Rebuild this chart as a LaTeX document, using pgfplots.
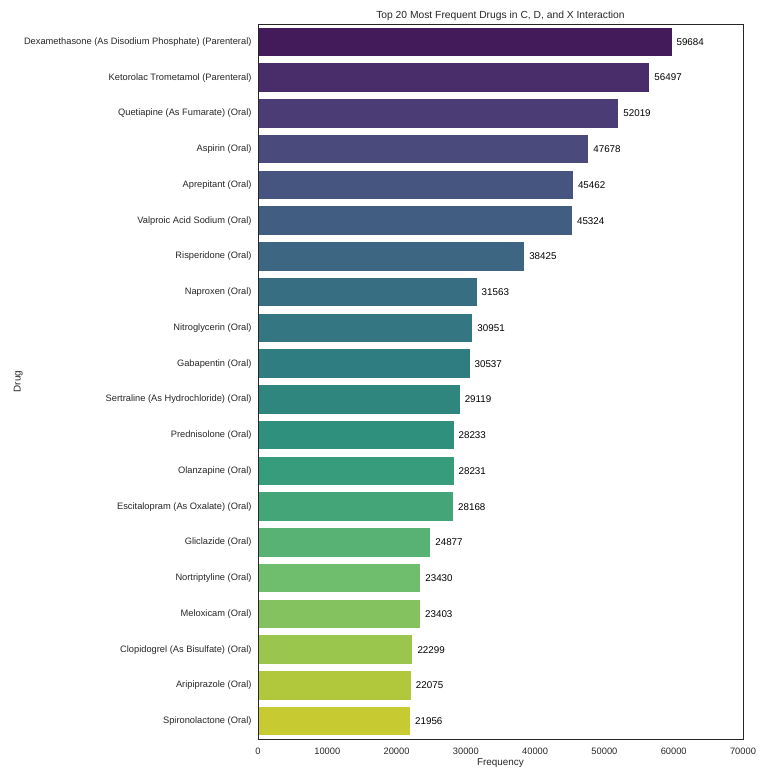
\documentclass[border=0pt]{standalone}
\usepackage{pgfplots}
\pgfplotsset{compat=1.18}
\usepackage{fontspec}
\setmainfont{Liberation Sans}

\definecolor{ink}{RGB}{38,38,38}
\definecolor{c1}{RGB}{68,27,90}
\definecolor{c2}{RGB}{73,45,106}
\definecolor{c3}{RGB}{75,60,117}
\definecolor{c4}{RGB}{74,74,125}
\definecolor{c5}{RGB}{70,84,128}
\definecolor{c6}{RGB}{66,93,130}
\definecolor{c7}{RGB}{61,102,130}
\definecolor{c8}{RGB}{56,110,130}
\definecolor{c9}{RGB}{52,118,129}
\definecolor{c10}{RGB}{48,125,129}
\definecolor{c11}{RGB}{46,134,127}
\definecolor{c12}{RGB}{47,144,126}
\definecolor{c13}{RGB}{55,156,123}
\definecolor{c14}{RGB}{68,166,120}
\definecolor{c15}{RGB}{87,178,116}
\definecolor{c16}{RGB}{111,190,109}
\definecolor{c17}{RGB}{131,194,95}
\definecolor{c18}{RGB}{154,198,77}
\definecolor{c19}{RGB}{177,200,60}
\definecolor{c20}{RGB}{200,202,49}

\begin{document}
\begin{tikzpicture}
\begin{axis}[
  scale only axis,
  width=485pt, height=715pt,
  xmin=0, xmax=70000,
  ymin=-0.5, ymax=19.5,
  y dir=reverse,
  axis on top,
  axis line style={ink, line width=0.8pt},
  xtick={0,10000,...,70000},
  ytick={0,...,19},
  yticklabels={
    Dexamethasone (As Disodium Phosphate) (Parenteral),
    Ketorolac Trometamol (Parenteral),
    Quetiapine (As Fumarate) (Oral),
    Aspirin (Oral),
    Aprepitant (Oral),
    Valproic Acid Sodium (Oral),
    Risperidone (Oral),
    Naproxen (Oral),
    Nitroglycerin (Oral),
    Gabapentin (Oral),
    Sertraline (As Hydrochloride) (Oral),
    Prednisolone (Oral),
    Olanzapine (Oral),
    Escitalopram (As Oxalate) (Oral),
    Gliclazide (Oral),
    Nortriptyline (Oral),
    Meloxicam (Oral),
    Clopidogrel (As Bisulfate) (Oral),
    Aripiprazole (Oral),
    Spironolactone (Oral)},
  major tick length=0pt,
  scaled x ticks=false,
  /pgf/number format/assume math mode=true,
  xticklabel={\pgfmathprintnumber[fixed,1000 sep={}]{\tick}},
  tick label style={font=\fontsize{9.3}{11}\selectfont, text=ink},
  xticklabel style={yshift=-5pt},
  yticklabel style={xshift=-3pt},
  xlabel={Frequency},
  ylabel={Drug},
  label style={font=\fontsize{9.9}{12}\selectfont, text=ink},
  xlabel style={at={(axis description cs:0.5,-0.0340)}, anchor=center},
  ylabel style={at={(axis description cs:-0.4945,0.5)}, anchor=center},
  title={Top 20 Most Frequent Drugs in C, D, and X Interaction},
  every axis title shift=0pt,
  title style={font=\fontsize{10.3}{12}\selectfont, text=ink,
    at={(axis description cs:0.5,1)}, anchor=base, yshift=6pt},
  xbar, bar width=0.8, bar shift=0pt,
  nodes near coords,
  point meta=x,
  nodes near coords style={font=\fontsize{9.8}{12}\selectfont, text=black, anchor=west, xshift=1.5pt,
    /pgf/number format/.cd, fixed, 1000 sep={}, precision=0},
]
\addplot[fill=c1, draw=none] coordinates {(59684,0)};
\addplot[fill=c2, draw=none] coordinates {(56497,1)};
\addplot[fill=c3, draw=none] coordinates {(52019,2)};
\addplot[fill=c4, draw=none] coordinates {(47678,3)};
\addplot[fill=c5, draw=none] coordinates {(45462,4)};
\addplot[fill=c6, draw=none] coordinates {(45324,5)};
\addplot[fill=c7, draw=none] coordinates {(38425,6)};
\addplot[fill=c8, draw=none] coordinates {(31563,7)};
\addplot[fill=c9, draw=none] coordinates {(30951,8)};
\addplot[fill=c10, draw=none] coordinates {(30537,9)};
\addplot[fill=c11, draw=none] coordinates {(29119,10)};
\addplot[fill=c12, draw=none] coordinates {(28233,11)};
\addplot[fill=c13, draw=none] coordinates {(28231,12)};
\addplot[fill=c14, draw=none] coordinates {(28168,13)};
\addplot[fill=c15, draw=none] coordinates {(24877,14)};
\addplot[fill=c16, draw=none] coordinates {(23430,15)};
\addplot[fill=c17, draw=none] coordinates {(23403,16)};
\addplot[fill=c18, draw=none] coordinates {(22299,17)};
\addplot[fill=c19, draw=none] coordinates {(22075,18)};
\addplot[fill=c20, draw=none] coordinates {(21956,19)};
\end{axis}
\path[use as bounding box] ([shift={(-258pt,-37pt)}]current axis.south west)
  rectangle ([shift={(512pt,739pt)}]current axis.south west);
\end{tikzpicture}
\end{document}
